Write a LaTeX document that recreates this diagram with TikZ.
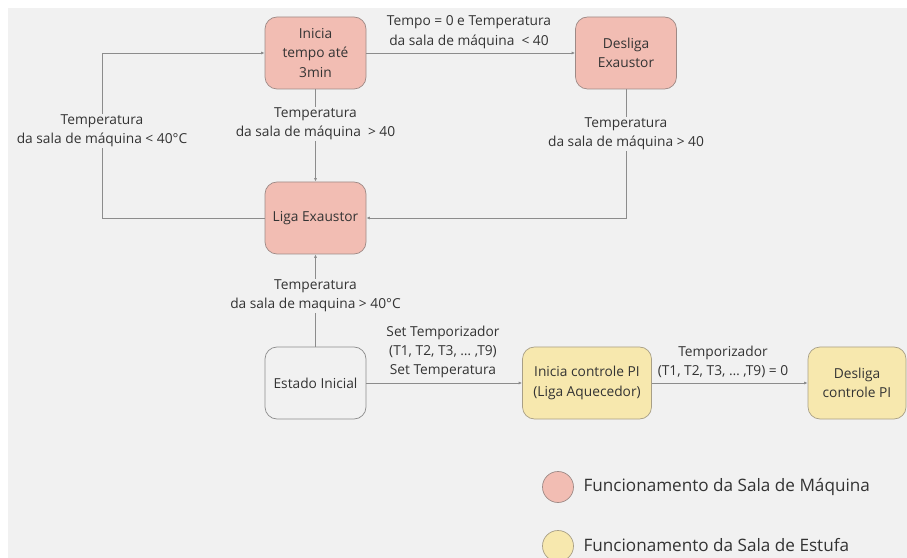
\documentclass[tikz,border=0pt]{standalone}
\usepackage{fontspec}
\setmainfont{Open Sans}
\usetikzlibrary{arrows.meta}

\definecolor{fundo}{HTML}{F1F1F1}
\definecolor{maqfill}{HTML}{F2BDB3}
\definecolor{maqdraw}{HTML}{9E8A86}
\definecolor{estfill}{HTML}{F7E8AE}
\definecolor{estdraw}{HTML}{A89F86}
\definecolor{linha}{HTML}{8C8C8C}
\definecolor{texto}{HTML}{333333}

\begin{document}
\begin{tikzpicture}[x=1bp, y=-1bp]
\tikzset{ >={Latex[length=3.5bp,width=3bp]}, every node/.style={text=texto, font=\fontsize{13.8}{19.5}\selectfont} }
\tikzset{ estado/.style={draw, rounded corners=12bp, minimum width=101bp, minimum height=72bp, align=center, line width=0.7bp, inner sep=1bp},
          maq/.style={estado, fill=maqfill, draw=maqdraw},
          est/.style={estado, fill=estfill, draw=estdraw},
          neutro/.style={estado, fill=fundo, draw=linha},
          rotulo/.style={fill=fundo, align=center, inner sep=1bp},
          seta/.style={->, draw=linha, line width=0.8bp},
          legenda/.style={circle, minimum size=31bp, inner sep=0pt, line width=0.7bp} }

\useasboundingbox (0,0) rectangle (907,558);
\fill [white] (0,0) rectangle (907,558);
\fill [fundo] (8,8) rectangle (907,558);

% sala de maquina
\node [maq] (inicia)  at (315.5,53)  {Inicia\\tempo até\\3min};
\node [maq] (desexa)  at (626,53)    {Desliga\\Exaustor};
\node [maq] (liga)    at (315.5,218) {Liga Exaustor};
\node [neutro] (estado) at (315.5,383) {Estado Inicial};

% sala de estufa
\node [est, minimum width=129bp] (iniPI) at (587,383) {Inicia controle PI\\(Liga Aquecedor)};
\node [est, minimum width=98bp]  (desPI) at (857,383) {Desliga\\controle PI};

\coordinate (esq) at (102,218);
\coordinate (dir) at (626,218);

\draw [seta] (inicia) -- (desexa);
\draw [seta] (inicia) -- (liga);
\draw [seta] (liga.west) -- (esq) |- (inicia.west);
\draw [seta] (desexa.south) -- (dir) -- (liga.east);
\draw [seta] (estado) -- (liga);
\draw [seta] (estado) -- (iniPI);
\draw [seta] (iniPI) -- (desPI);

\node [align=center] (r1) at (469,32) {Tempo = 0 e Temperatura\\da sala de máquina~ < 40};
\node [rotulo] (r2) at (315.5,124) {Temperatura\\da sala de máquina~ > 40};
\node [rotulo] (r3) at (102,131)   {Temperatura\\da sala de máquina < 40°C};
\node [rotulo] (r4) at (626,134)   {Temperatura\\da sala de máquina > 40};
\node [rotulo] (r5) at (315.5,296) {Temperatura\\da sala de maquina > 40°C};
\node [align=center] (r6) at (443,352) {Set Temporizador\\(T1, T2, T3, … ,T9)\\Set Temperatura};
\node [align=center] (r7) at (723,362) {Temporizador\\(T1, T2, T3, … ,T9) = 0};

% legenda
\node [legenda, fill=maqfill, draw=maqdraw] (lmaq) at (558,487) {};
\node [legenda, fill=estfill, draw=estdraw] (lest) at (558,546) {};
\node [anchor=west, font=\fontsize{17.2}{20}\selectfont] (tmaq) at (580,487) {Funcionamento da Sala de Máquina};
\node [anchor=west, font=\fontsize{17.2}{20}\selectfont] (test) at (580,545) {Funcionamento da Sala de Estufa};

\end{tikzpicture}
\end{document}
